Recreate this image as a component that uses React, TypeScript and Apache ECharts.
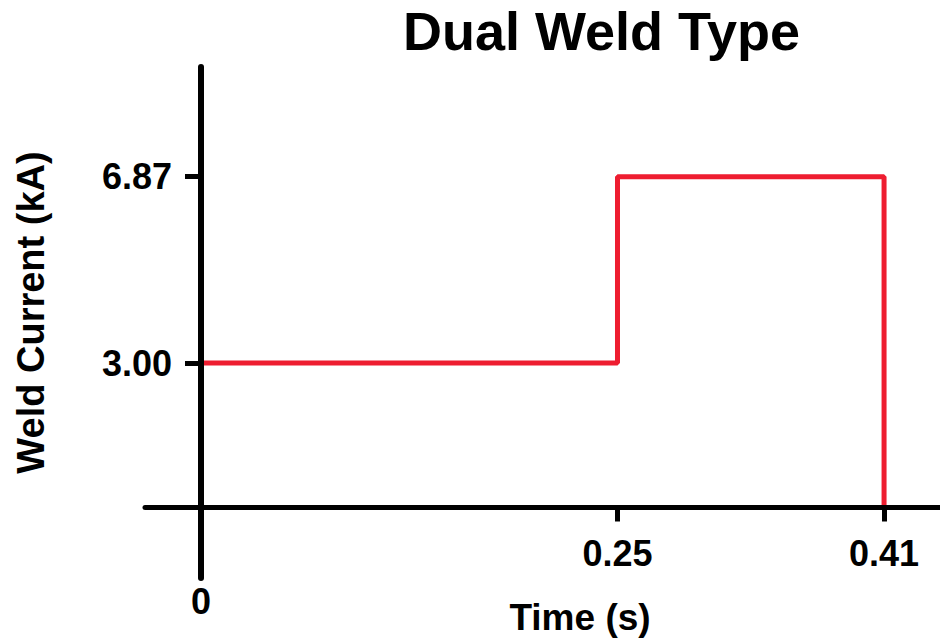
import React, { useEffect, useRef } from "react";
import * as echarts from "echarts";

const titleText = "Dual Weld Type";
const xName = "Time (s)";
const yName = "Weld Current (kA)";
// time points where the current changes (s)
const timePoints = [0, 0.25, 0.41];
// current level starting at each time point (kA)
const currentLevels = [3.0, 6.87, 0];
const xTickValues = [0.25, 0.41];
const xLabelValues = [0, 0.25, 0.41];
const yTickValues = [3.0, 6.87];

const FONT = "Liberation Sans, Arial, sans-serif";
const RED = "#EE1D30";

export default function App() {
  const ref = useRef<HTMLDivElement>(null);
  useEffect(() => {
    if (!ref.current) return;
    const chart = echarts.init(ref.current, undefined, { renderer: "svg" });
    const data = timePoints.map((t, i) => [t, currentLevels[i]]);
    chart.setOption({
      animation: false,
      backgroundColor: "#ffffff",
      title: {
        text: titleText,
        left: 398,
        top: -1,
        textStyle: { fontFamily: FONT, fontWeight: "bold", fontSize: 54, color: "#000" },
      },
      grid: { left: 145, right: 0, top: 67, bottom: 64, containLabel: false, outerBoundsMode: "none" },
      xAxis: {
        type: "value",
        min: -0.03361,
        max: 0.44358,
        z: 3,
        splitLine: { show: false },
        axisLine: { onZero: true, lineStyle: { color: "#000", width: 5 } },
        axisTick: {
          show: true,
          customValues: xTickValues,
          length: 14,
          lineStyle: { color: "#000", width: 5 },
        },
        axisLabel: {
          customValues: xLabelValues,
          margin: -43,
          color: "#000",
          fontFamily: FONT,
          fontWeight: "bold",
          fontSize: 36,
          formatter: (v: number) => (v === 0 ? "{z|0}" : "{n|" + v.toFixed(2) + "}"),
          rich: {
            z: { fontFamily: FONT, fontWeight: "bold", fontSize: 36, color: "#000", padding: [48, 0, 0, 0] },
            n: { fontFamily: FONT, fontWeight: "bold", fontSize: 36, color: "#000" },
          },
        },
        name: xName,
        nameLocation: "middle",
        nameGap: 21,
        nameMoveOverlap: false,
        nameTextStyle: {
          fontFamily: FONT,
          fontWeight: "bold",
          fontSize: 37,
          color: "#000",
          padding: [0, 0, 0, 75],
        },
      },
      yAxis: {
        type: "value",
        min: -1.4639,
        max: 9.1466,
        z: 3,
        splitLine: { show: false },
        axisLine: { onZero: true, lineStyle: { color: "#000", width: 6 } },
        axisTick: {
          show: true,
          customValues: yTickValues,
          length: 16,
          lineStyle: { color: "#000", width: 5 },
        },
        axisLabel: {
          customValues: yTickValues,
          margin: -27,
          color: "#000",
          fontFamily: FONT,
          fontWeight: "bold",
          fontSize: 36,
          formatter: (v: number) => v.toFixed(2),
        },
        name: yName,
        nameLocation: "middle",
        nameGap: 95,
        nameMoveOverlap: false,
        nameTextStyle: {
          fontFamily: FONT,
          fontWeight: "bold",
          fontSize: 38,
          color: "#000",
          padding: [0, 0, 0, 20],
        },
      },
      series: [
        {
          type: "line",
          step: "end",
          data,
          symbol: "none",
          z: 2,
          lineStyle: { color: RED, width: 5 },
        },
      ],
    });
    return () => chart.dispose();
  }, []);
  return <div ref={ref} style={{ width: 940, height: 642, position: "absolute", left: 0, top: 0 }} />;
}
